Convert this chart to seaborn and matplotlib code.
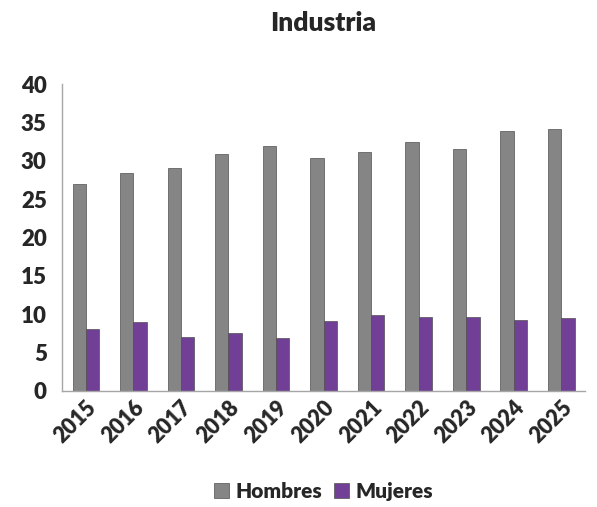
import pandas as pd
import seaborn as sns
import matplotlib.pyplot as plt
from matplotlib.ticker import FixedLocator

# Data
years = ["2015", "2016", "2017", "2018", "2019", "2020",
         "2021", "2022", "2023", "2024", "2025"]
hombres = [27.0, 28.4, 29.1, 30.9, 31.9, 30.4, 31.2, 32.4, 31.6, 33.9, 34.2]
mujeres = [8.1, 9.0, 7.0, 7.6, 6.9, 9.1, 9.9, 9.7, 9.6, 9.2, 9.5]

gris = "#858585"
morado = "#7330A5"
eje = "#A6A6A6"

df = pd.DataFrame({
    "Año": years * 2,
    "Valor": hombres + mujeres,
    "Sexo": ["Hombres"] * len(years) + ["Mujeres"] * len(years),
})

sns.set_theme(style="white")
plt.rcParams["font.family"] = ["Lato", "DejaVu Sans"]
peso = "heavy"

fig = plt.figure(figsize=(5.97, 5.07), dpi=100)
ax = fig.add_axes([0.104, 0.229, 0.876, 0.605])

sns.barplot(data=df, x="Año", y="Valor", hue="Sexo", palette=[gris, morado],
            width=0.56, ax=ax, edgecolor="#505050", linewidth=0.5, legend=True)

ax.set_ylim(0, 40)
ax.set_xlim(-0.5, len(years) - 0.5)
ax.set_yticks(range(0, 41, 5))
ax.set_xlabel("")
ax.set_ylabel("")
ax.set_title("Industria", fontsize=19, fontweight=peso, pad=38)

for s in ["top", "right"]:
    ax.spines[s].set_visible(False)
for s in ["left", "bottom"]:
    ax.spines[s].set_color(eje)
    ax.spines[s].set_linewidth(1.0)

ax.tick_params(axis="y", direction="out", length=5, color=eje, labelsize=16, pad=6)
ax.tick_params(axis="x", which="major", length=0, labelsize=15.5, pad=4)
ax.xaxis.set_minor_locator(FixedLocator([i - 0.5 for i in range(len(years) + 1)]))
ax.tick_params(axis="x", which="minor", direction="out", length=5, color=eje)
plt.xticks(rotation=45, ha="right", rotation_mode="anchor")
for lbl in ax.get_xticklabels() + ax.get_yticklabels():
    lbl.set_fontweight(peso)

leg = ax.legend(loc="upper center", bbox_to_anchor=(0.5, -0.235), ncol=2, frameon=False,
                prop={"weight": peso, "size": 15}, handlelength=0.7, handleheight=0.7,
                handletextpad=0.3, columnspacing=0.6)

fig.savefig("out.png", dpi=100)
